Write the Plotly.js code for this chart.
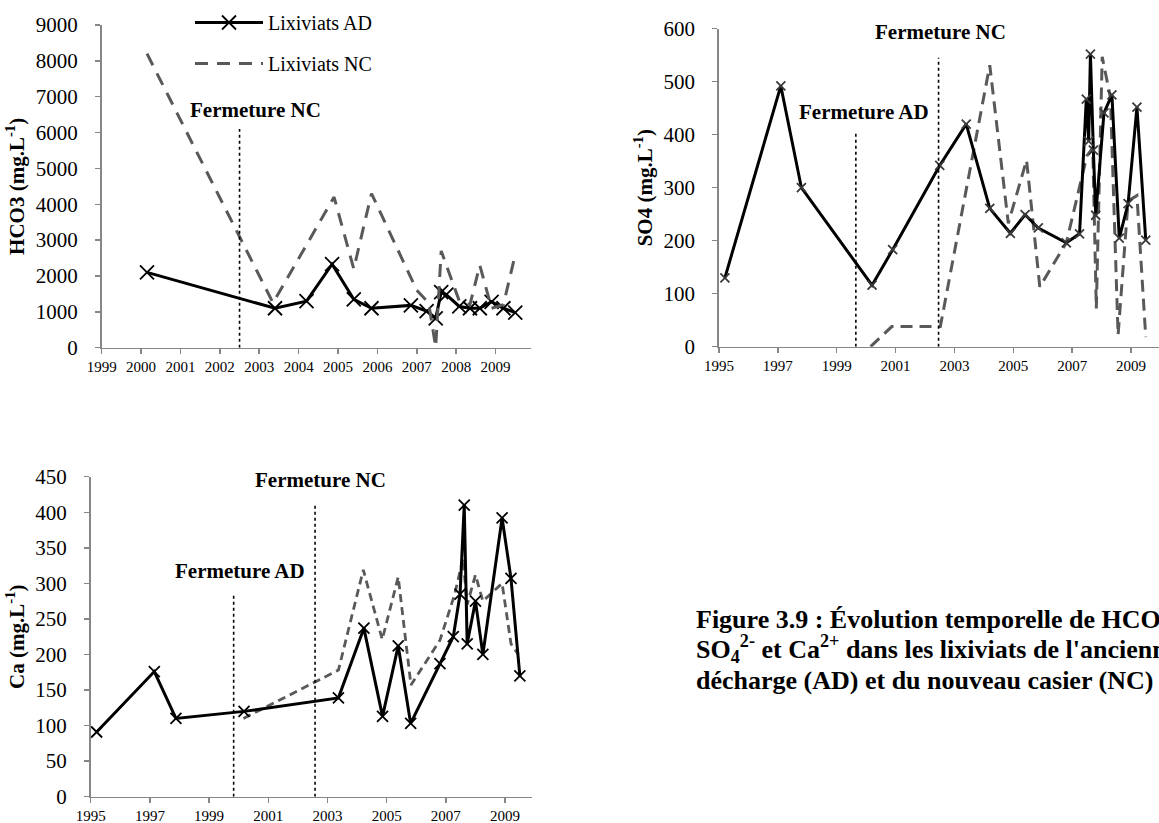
<!DOCTYPE html>
<html>
<head>
<meta charset="utf-8">
<script src="https://cdn.plot.ly/plotly-3.0.1.min.js"></script>
<style>html,body{margin:0;padding:0;background:#fff;}#chart{width:1159px;height:823px;}</style>
</head>
<body>
<div id="chart"></div>
<script>
// ---- HCO3 (chart 1) ----
const hco3AdYears = [2000.15, 2003.4, 2004.2, 2004.85, 2005.4, 2005.85, 2006.85, 2007.25, 2007.48, 2007.62, 2007.75, 2008.08, 2008.35, 2008.6, 2008.9, 2009.2, 2009.5];
const hco3Ad      = [2100, 1100, 1300, 2330, 1350, 1100, 1180, 1020, 820, 1550, 1480, 1150, 1100, 1100, 1280, 1100, 980];
const hco3NcYears = [2000.15, 2003.35, 2004.9, 2005.4, 2005.85, 2007.0, 2007.3, 2007.48, 2007.62, 2008.08, 2008.35, 2008.6, 2008.9, 2009.2, 2009.5];
const hco3Nc      = [8200, 1250, 4200, 2200, 4300, 1600, 1250, 20, 2700, 1300, 1200, 2300, 1100, 1200, 2600];

// ---- SO4 (chart 2) ----
const so4AdYears = [1995.2, 1997.1, 1997.8, 2000.2, 2000.9, 2002.5, 2003.4, 2004.2, 2004.9, 2005.4, 2005.85, 2006.8, 2007.25, 2007.48, 2007.56, 2007.62, 2007.72, 2007.8, 2008.08, 2008.35, 2008.6, 2008.9, 2009.2, 2009.5];
const so4Ad      = [130, 492, 300, 116, 183, 342, 420, 261, 214, 249, 224, 196, 213, 467, 388, 552, 371, 248, 441, 475, 205, 270, 452, 201];
const so4NcYears = [2000.15, 2000.87, 2002.52, 2004.2, 2004.83, 2005.45, 2005.9, 2006.8, 2007.5, 2007.7, 2007.82, 2008.02, 2008.3, 2008.56, 2008.9, 2009.2, 2009.5];
const so4Nc      = [0, 38, 38, 531, 233, 352, 113, 196, 360, 375, 72, 547, 470, 22, 275, 285, 18];

// ---- Ca (chart 3) ----
const caAdYears = [1995.2, 1997.15, 1997.88, 2000.18, 2003.37, 2004.23, 2004.86, 2005.39, 2005.81, 2006.8, 2007.25, 2007.48, 2007.62, 2007.72, 2008.0, 2008.25, 2008.9, 2009.2, 2009.5];
const caAd      = [91, 176, 110, 120, 139, 237, 113, 212, 103, 187, 225, 285, 410, 215, 275, 200, 392, 307, 170];
const caNcYears = [2000.16, 2003.37, 2004.21, 2004.85, 2005.39, 2005.82, 2006.8, 2007.3, 2007.58, 2007.72, 2008.0, 2008.25, 2008.9, 2009.2, 2009.45];
const caNc      = [110, 178, 319, 221, 309, 157, 220, 285, 335, 270, 312, 275, 300, 215, 200];

const seriesNames = ['Lixiviats AD', 'Lixiviats NC'];
const closures = {hco3: {NC: 2002.5}, so4: {AD: 1999.65, NC: 2002.46}, ca: {AD: 1999.83, NC: 2002.58}};
const captionLines = [
  '<b>Figure 3.9 : Évolution temporelle de HCO<sub>3</sub><sup>-</sup>,</b>',
  '<b>SO<sub>4</sub><sup>2-</sup> et Ca<sup>2+</sup> dans les lixiviats de l\'ancienne</b>',
  '<b>décharge (AD) et du nouveau casier (NC)</b>'
];

const W = 1159, H = 823;
const px = v => v / W;
const py = v => 1 - v / H;

const FONT = '"Liberation Serif", "Times New Roman", serif';
const BLACK = '#000000';
const GREY = '#595959';
const AXC = '#868686';

function adTrace(x, y, xa, ya, msize, mcolor, show) {
  return {x: x, y: y, xaxis: xa, yaxis: ya, type: 'scatter', mode: 'lines+markers',
    name: seriesNames[0], legendgroup: 'ad', showlegend: show,
    line: {color: BLACK, width: 3},
    marker: {symbol: 'x-thin', size: msize, color: mcolor, line: {color: mcolor, width: 1.8}}};
}
function ncTrace(x, y, xa, ya, dash, width, show) {
  return {x: x, y: y, xaxis: xa, yaxis: ya, type: 'scatter', mode: 'lines',
    name: seriesNames[1], legendgroup: 'nc', showlegend: show,
    line: {color: GREY, width: width, dash: dash}};
}

const data = [
  adTrace(hco3AdYears, hco3Ad, 'x', 'y', 14, BLACK, true),
  ncTrace(hco3NcYears, hco3Nc, 'x', 'y', '13px,9px', 3, true),
  ncTrace(so4NcYears, so4Nc, 'x2', 'y2', '12px,7px', 3, false),
  adTrace(so4AdYears, so4Ad, 'x2', 'y2', 9, '#3a3a3a', false),
  ncTrace(caNcYears, caNc, 'x3', 'y3', '8px,5px', 2.8, false),
  adTrace(caAdYears, caAd, 'x3', 'y3', 11, BLACK, false)
];

function xax(domain, range, tick0, dtick, anchor) {
  return {domain: domain, range: range, tick0: tick0, dtick: dtick, anchor: anchor,
    showgrid: false, zeroline: false, showline: true, linecolor: AXC, linewidth: 1.7,
    ticks: 'outside', ticklen: 5, tickcolor: AXC, tickwidth: 1.5,
    tickfont: {family: FONT, size: 15, color: BLACK}, fixedrange: true};
}
function yax(domain, range, dtick, anchor, title, standoff) {
  return {domain: domain, range: range, dtick: dtick, anchor: anchor,
    showgrid: false, zeroline: false, showline: true, linecolor: AXC, linewidth: 1.7,
    ticks: 'outside', ticklen: 5, tickcolor: AXC, tickwidth: 1.5, ticklabelstandoff: 13,
    tickfont: {family: FONT, size: 21, color: BLACK}, fixedrange: true,
    title: {text: title, font: {family: FONT, size: 21, color: BLACK}, standoff: standoff}};
}

const annFont = {family: FONT, size: 21, color: BLACK};
const capFont = {family: FONT, size: 26, color: BLACK};
const layout = {
  width: W, height: H,
  margin: {l: 0, r: 0, t: 0, b: 0},
  paper_bgcolor: '#ffffff', plot_bgcolor: 'rgba(0,0,0,0)',
  showlegend: true,
  legend: {x: px(190), y: py(3), xanchor: 'left', yanchor: 'top', bgcolor: 'rgba(0,0,0,0)',
    font: {family: FONT, size: 20, color: BLACK}, itemwidth: 68, tracegroupgap: 12, traceorder: 'grouped'},
  xaxis: xax([px(101.7), px(531)], [1999, 2009.9], 1999, 1, 'y'),
  yaxis: yax([py(347.7), py(25)], [0, 9000], 1000, 'x', '<b>HCO3 (mg.L<sup>-1</sup>)</b>', 5),
  xaxis2: xax([px(719), 1], [1995, 2009.95], 1995, 2, 'y2'),
  yaxis2: yax([py(346.7), py(28.7)], [0, 600], 100, 'x2', '<b>SO4 (mg.L<sup>-1</sup>)</b>', 5),
  xaxis3: xax([px(90.7), px(531.7)], [1995, 2009.9], 1995, 2, 'y3'),
  yaxis3: yax([py(796.7), py(476.7)], [0, 450], 50, 'x3', '<b>Ca (mg.L<sup>-1</sup>)</b>', 5),
  shapes: [
    {type: 'line', xref: 'x', yref: 'y', x0: closures.hco3.NC, x1: closures.hco3.NC, y0: 0, y1: 6100, line: {color: BLACK, width: 1.6, dash: 'dot'}},
    {type: 'line', xref: 'x2', yref: 'y2', x0: closures.so4.AD, x1: closures.so4.AD, y0: 0, y1: 405, line: {color: BLACK, width: 1.6, dash: 'dot'}},
    {type: 'line', xref: 'x2', yref: 'y2', x0: closures.so4.NC, x1: closures.so4.NC, y0: 0, y1: 545, line: {color: BLACK, width: 1.6, dash: 'dot'}},
    {type: 'line', xref: 'x3', yref: 'y3', x0: closures.ca.AD, x1: closures.ca.AD, y0: 0, y1: 286, line: {color: BLACK, width: 1.6, dash: 'dot'}},
    {type: 'line', xref: 'x3', yref: 'y3', x0: closures.ca.NC, x1: closures.ca.NC, y0: 0, y1: 410, line: {color: BLACK, width: 1.6, dash: 'dot'}}
  ],
  annotations: [
    {xref: 'x', yref: 'y', x: 2002.9, y: 6630, text: '<b>Fermeture NC</b>', showarrow: false, font: annFont},
    {xref: 'x2', yref: 'y2', x: 1999.94, y: 443, text: '<b>Fermeture AD</b>', showarrow: false, font: annFont},
    {xref: 'x2', yref: 'y2', x: 2002.53, y: 594, text: '<b>Fermeture NC</b>', showarrow: false, font: annFont},
    {xref: 'x3', yref: 'y3', x: 2000.05, y: 318, text: '<b>Fermeture AD</b>', showarrow: false, font: annFont},
    {xref: 'x3', yref: 'y3', x: 2002.75, y: 445, text: '<b>Fermeture NC</b>', showarrow: false, font: annFont},
    {xref: 'paper', yref: 'paper', x: px(694), y: py(619), xanchor: 'left', yanchor: 'middle', align: 'left', showarrow: false, font: capFont, text: captionLines[0]},
    {xref: 'paper', yref: 'paper', x: px(694), y: py(649), xanchor: 'left', yanchor: 'middle', align: 'left', showarrow: false, font: capFont, text: captionLines[1]},
    {xref: 'paper', yref: 'paper', x: px(694), y: py(680), xanchor: 'left', yanchor: 'middle', align: 'left', showarrow: false, font: capFont, text: captionLines[2]}
  ]
};

Plotly.newPlot('chart', data, layout, {staticPlot: true, displayModeBar: false});
</script>
</body>
</html>
